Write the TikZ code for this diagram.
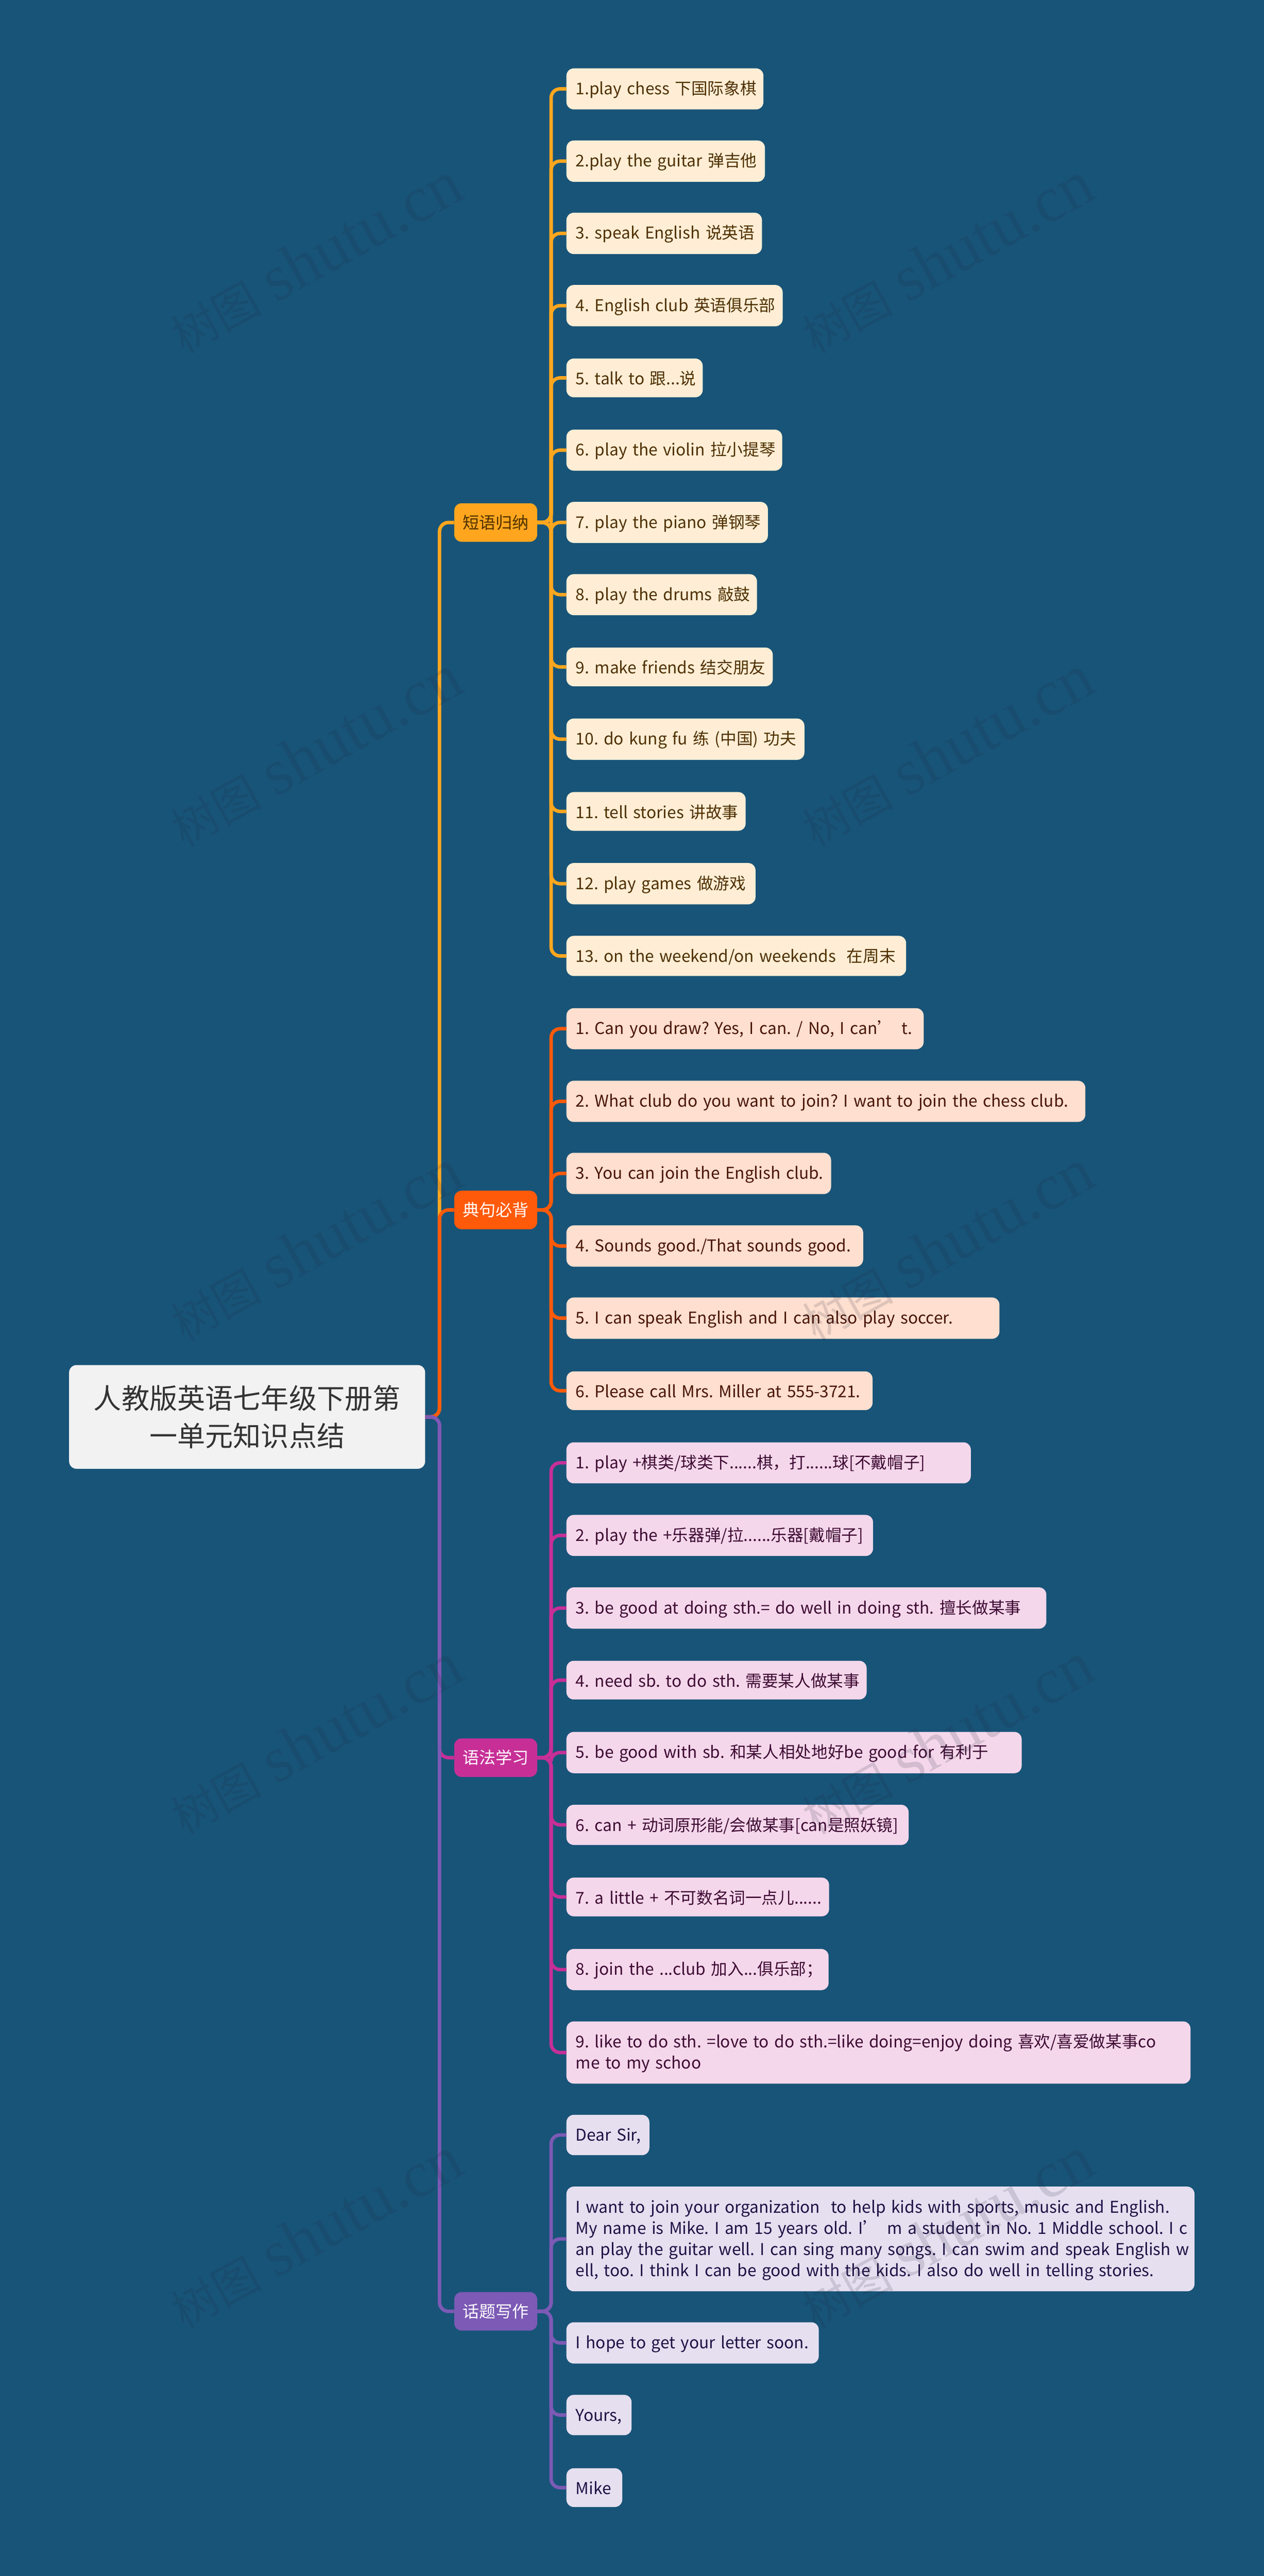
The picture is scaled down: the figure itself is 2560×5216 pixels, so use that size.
\documentclass[tikz,border=0pt]{standalone}
\usepackage{fontspec}
\setmainfont{Noto Sans CJK SC}
\newfontfamily\wmzh{Noto Sans CJK SC}
\newfontfamily\wmen{Liberation Serif}
\definecolor{bgc}{HTML}{185478}
\definecolor{cA}{HTML}{FFA61E}\definecolor{fA}{HTML}{FFEED5}\definecolor{tA}{HTML}{4F3000}
\definecolor{cB}{HTML}{FF5A0A}\definecolor{fB}{HTML}{FFDFCF}\definecolor{tB}{HTML}{4A1505}
\definecolor{cC}{HTML}{C72F97}\definecolor{fC}{HTML}{F5D7EB}\definecolor{tC}{HTML}{3E0A33}
\definecolor{cD}{HTML}{7C5AB5}\definecolor{fD}{HTML}{E6DFF0}\definecolor{tD}{HTML}{1E1245}
\definecolor{wmc}{HTML}{1E283C}
\newcommand{\lineitem}[1]{\mbox{\vrule height 31pt depth 3pt width 0pt #1}}
\newcommand{\leafnode}[5]{\pgfmathsetmacro\nodew{#3-1147-38}\node[leafbox,#4,text width=\nodew pt] (#1) at (1147,#2) {#5};}
\tikzset{
  leafbox/.style={anchor=west,rounded corners=15pt,inner xsep=19pt,inner ysep=22.2pt,align=left,font=\frenchspacing\fontsize{33}{42.8}\selectfont},
  groupA/.style={fill=fA,text=tA},
  groupB/.style={fill=fB,text=tB},
  groupC/.style={fill=fC,text=tC},
  groupD/.style={fill=fD,text=tD},
  branchbox/.style={rounded corners=15pt,minimum width=168pt,minimum height=78pt,inner sep=0pt,font=\fontsize{33.4}{40}\selectfont},
  rootbox/.style={fill=white!95!black,text=black!80,rounded corners=15pt,minimum width=721pt,minimum height=210pt,inner sep=0pt,align=center,font=\fontsize{56.5}{76}\selectfont},
  link/.style={line width=7pt,rounded corners=18pt},
  mark text/.style={text=wmc,text opacity=.15,rotate=29,inner sep=0pt}
}
\begin{document}
\begin{tikzpicture}[x=1pt,y=-1pt]
\fill[bgc] (0,0) rectangle (2560,5216);
\useasboundingbox (0,0) rectangle (2560,5216);
\node[rootbox] (root) at (500.5,2869) {人教版英语七年级下册第\\一单元知识点结};
\node[branchbox,fill=cA,text=tA] (A) at (1004,1058) {短语归纳};
\node[branchbox,fill=cB,text=white] (B) at (1004,2450) {典句必背};
\node[branchbox,fill=cC,text=white] (C) at (1004,3559) {语法学习};
\node[branchbox,fill=cD,text=white] (D) at (1004,4680) {话题写作};
\leafnode{a1}{180}{1546}{groupA}{\lineitem{1.play chess 下国际象棋}}
\leafnode{a2}{326.3}{1549}{groupA}{\lineitem{2.play the guitar 弹吉他}}
\leafnode{a3}{472.6}{1543}{groupA}{\lineitem{3. speak English 说英语}}
\leafnode{a4}{618.9}{1585}{groupA}{\lineitem{4. English club 英语俱乐部}}
\leafnode{a5}{765.2}{1423}{groupA}{\lineitem{5. talk to 跟...说}}
\leafnode{a6}{911.5}{1584}{groupA}{\lineitem{6. play the violin 拉小提琴}}
\leafnode{a7}{1057.8}{1555}{groupA}{\lineitem{7. play the piano 弹钢琴}}
\leafnode{a8}{1204.1}{1533}{groupA}{\lineitem{8. play the drums 敲鼓}}
\leafnode{a9}{1350.4}{1565}{groupA}{\lineitem{9. make friends 结交朋友}}
\leafnode{a10}{1496.7}{1629}{groupA}{\lineitem{10. do kung fu 练 (中国) 功夫}}
\leafnode{a11}{1643}{1510}{groupA}{\lineitem{11. tell stories 讲故事}}
\leafnode{a12}{1789.3}{1530}{groupA}{\lineitem{12. play games 做游戏}}
\leafnode{a13}{1935.6}{1835}{groupA}{\lineitem{13. on the weekend/on weekends\ \ 在周末}}
\leafnode{b1}{2083}{1870.5}{groupB}{\lineitem{1. Can you draw? Yes, I can. / No, I can’\hspace{16pt}t.}}
\leafnode{b2}{2230}{2198}{groupB}{\lineitem{2. What club do you want to join? I want to join the chess club.}}
\leafnode{b3}{2376}{1683}{groupB}{\lineitem{3. You can join the English club.}}
\leafnode{b4}{2523}{1748}{groupB}{\lineitem{4. Sounds good./That sounds good.}}
\leafnode{b5}{2669}{2024}{groupB}{\lineitem{5. I can speak English and I can also play soccer.}}
\leafnode{b6}{2816}{1767}{groupB}{\lineitem{6. Please call Mrs. Miller at 555-3721.}}
\leafnode{c1}{2962}{1966}{groupC}{\lineitem{1. play +棋类/球类下......棋，打......球[不戴帽子]}}
\leafnode{c2}{3109}{1768}{groupC}{\lineitem{2. play the +乐器弹/拉......乐器[戴帽子]}}
\leafnode{c3}{3256}{2119}{groupC}{\lineitem{3. be good at doing sth.= do well in doing sth. 擅长做某事}}
\leafnode{c4}{3402}{1755}{groupC}{\lineitem{4. need sb. to do sth. 需要某人做某事}}
\leafnode{c5}{3548.6}{2069}{groupC}{\lineitem{5. be good with sb. 和某人相处地好be good for 有利于}}
\leafnode{c6}{3695}{1840}{groupC}{\lineitem{6. can + 动词原形能/会做某事[can是照妖镜]}}
\leafnode{c7}{3841}{1679}{groupC}{\lineitem{7. a little + 不可数名词一点儿......}}
\leafnode{c8}{3988}{1678}{groupC}{\lineitem{8. join the ...club 加入...俱乐部；}}
\leafnode{c9}{4156}{2411}{groupC}{\lineitem{9. like to do sth. =love to do sth.=like doing=enjoy doing 喜欢/喜爱做某事co}\\\lineitem{me to my schoo}}
\leafnode{d1}{4323}{1315}{groupD}{\lineitem{Dear Sir,}}
\leafnode{d2}{4533.5}{2419}{groupD}{\lineitem{I want to join your organization\ \ to help kids with sports, music and English.}\\\lineitem{My name is Mike. I am 15 years old. I’\hspace{16pt}m a student in No. 1 Middle school. I c}\\\lineitem{an play the guitar well. I can sing many songs. I can swim and speak English w}\\\lineitem{ell, too. I think I can be good with the kids. I also do well in telling stories.}}
\leafnode{d3}{4744}{1658}{groupD}{\lineitem{I hope to get your letter soon.}}
\leafnode{d4}{4890}{1279}{groupD}{\lineitem{Yours,}}
\leafnode{d5}{5037}{1260}{groupD}{\lineitem{Mike}}
\foreach \n in {1,...,13} \draw[link,cA] (A.east) -- ++(28,0) |- (a\n.west);
\foreach \n in {1,...,6} \draw[link,cB] (B.east) -- ++(28,0) |- (b\n.west);
\foreach \n in {1,...,9} \draw[link,cC] (C.east) -- ++(28,0) |- (c\n.west);
\foreach \n in {1,...,5} \draw[link,cD] (D.east) -- ++(28,0) |- (d\n.west);
\draw[link,cA] (root.east) -- ++(29,0) |- (A.west);
\draw[link,cB] (root.east) -- ++(29,0) |- (B.west);
\draw[link,cC] (root.east) -- ++(29,0) |- (C.west);
\draw[link,cD] (root.east) -- ++(29,0) |- (D.west);
\foreach \wx in {639,1918} \foreach \wy in {521,1521,2521,3521,4521}
  \node[mark text] (wm\wx\wy) at (\wx,\wy) {{\fontsize{92}{92}\selectfont\wmzh 树图}\hspace{28pt}{\fontsize{132}{132}\selectfont\wmen shutu.cn}};
\end{tikzpicture}
\end{document}
